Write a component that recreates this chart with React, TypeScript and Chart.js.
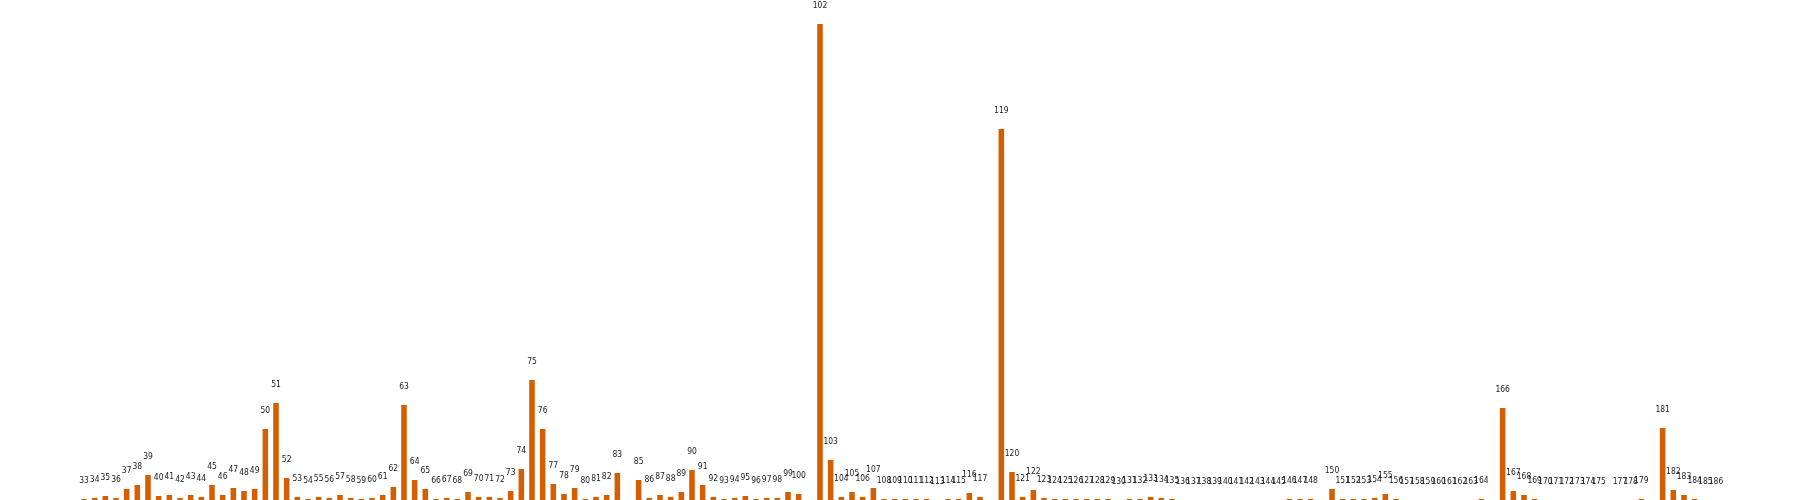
import React, { useEffect, useRef } from "react";
import { Chart, registerables } from "chart.js";

Chart.register(...registerables);

const categories: number[] = [
  33, 34, 35, 36, 37, 38, 39, 40, 41, 42, 43, 44, 45, 46, 47, 48, 49, 50, 51, 52,
  53, 54, 55, 56, 57, 58, 59, 60, 61, 62, 63, 64, 65, 66, 67, 68, 69, 70, 71, 72,
  73, 74, 75, 76, 77, 78, 79, 80, 81, 82, 83, 85, 86, 87, 88, 89, 90, 91, 92, 93,
  94, 95, 96, 97, 98, 99, 100, 102, 103, 104, 105, 106, 107, 108, 109, 110, 111,
  112, 113, 114, 115, 116, 117, 119, 120, 121, 122, 123, 124, 125, 126, 127, 128,
  129, 130, 131, 132, 133, 134, 135, 136, 137, 138, 139, 140, 141, 142, 143, 144,
  145, 146, 147, 148, 150, 151, 152, 153, 154, 155, 156, 157, 158, 159, 160, 161,
  162, 163, 164, 166, 167, 168, 169, 170, 171, 172, 173, 174, 175, 177, 178, 179,
  181, 182, 183, 184, 185, 186,
];

const values: number[] = [
  1, 2, 4, 2, 11, 15, 25, 4, 5, 2, 5, 3, 15, 5, 12, 9, 11, 71, 97, 22,
  3, 1, 3, 2, 5, 2, 1, 2, 5, 13, 95, 20, 11, 1, 2, 1, 8, 3, 3, 2,
  9, 31, 120, 71, 16, 6, 12, 1, 3, 5, 27, 20, 2, 5, 3, 8, 30, 15, 3, 1,
  2, 4, 1, 2, 2, 8, 6, 476, 40, 3, 8, 3, 12, 1, 1, 1, 1,
  1, 0, 1, 1, 7, 3, 371, 28, 3, 10, 2, 1, 1, 1, 1, 1,
  1, 0, 1, 1, 3, 2, 1, 0, 0, 0, 0, 0, 0, 0, 0, 0,
  0, 1, 1, 1, 11, 1, 1, 1, 2, 6, 1, 0, 0, 0, 0, 0,
  0, 0, 1, 92, 9, 5, 1, 0, 0, 0, 0, 0, 0, 0, 0, 1,
  72, 10, 5, 1, 0, 0,
];

const xMin = 25.125;
const xMax = 193.875;
const yMax = 500;
const barColor = "#D55E00";

const labelPlugin = {
  id: "catLabels",
  afterDatasetsDraw(chart: any) {
    const ctx = chart.ctx;
    const meta = chart.getDatasetMeta(0);
    ctx.save();
    ctx.font = "9.5px 'DejaVu Sans'";
    ctx.fillStyle = "#1a1a1a";
    ctx.textAlign = "center";
    ctx.textBaseline = "alphabetic";
    meta.data.forEach((bar: any, i: number) => {
      ctx.save();
      ctx.translate(bar.x, bar.y - 16);
      ctx.scale(0.8, 1);
      ctx.fillText(String(categories[i]), 0, 0);
      ctx.restore();
    });
    ctx.restore();
  },
};

export default function App() {
  const ref = useRef<HTMLCanvasElement | null>(null);
  useEffect(() => {
    document.body.style.margin = "0";
    const canvas = ref.current;
    if (!canvas) return;
    const chart = new Chart(canvas, {
      type: "bar",
      data: {
        datasets: [
          {
            data: categories.map((c, i) => ({ x: c, y: values[i] })),
            backgroundColor: barColor,
            borderWidth: 0,
            barPercentage: 0.52,
            categoryPercentage: 1,
          },
        ],
      },
      options: {
        responsive: false,
        animation: false,
        layout: { padding: 0 },
        plugins: { legend: { display: false }, tooltip: { enabled: false } },
        scales: {
          x: { type: "linear", min: xMin, max: xMax, display: false, offset: false },
          y: { min: 0, max: yMax, display: false },
        },
      },
      plugins: [labelPlugin],
    });
    return () => chart.destroy();
  }, []);
  return (
    <div style={{ width: 1800, height: 500 }}>
      <canvas ref={ref} width={1800} height={500} style={{ display: "block" }} />
    </div>
  );
}
